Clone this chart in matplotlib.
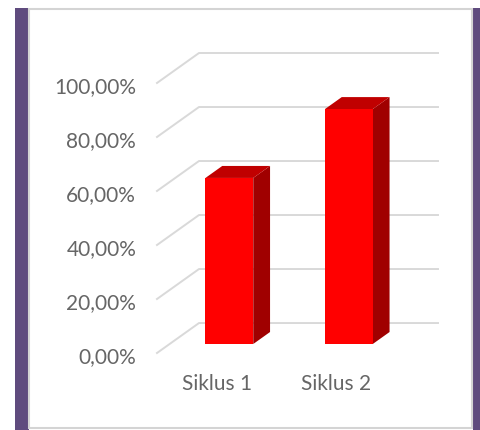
import matplotlib
matplotlib.use("Agg")
import matplotlib.pyplot as plt
from matplotlib.patches import Rectangle
from matplotlib.transforms import ScaledTranslation

# data
categories = ["Siklus 1", "Siklus 2"]
values = [0.615, 0.87]
yticks = [0.0, 0.2, 0.4, 0.6, 0.8, 1.0]
ytick_labels = ["0,00%", "20,00%", "40,00%", "60,00%", "80,00%", "100,00%"]

W, H = 481, 430
DPI = 100

# oblique projection (data units): full depth offset
DX, DY = 0.3515, 0.111
BAR_W = 0.40
D0, D1 = 0.3, 0.7   # bar depth range as fraction of full depth

plt.rcParams['font.family'] = ['Lato', 'DejaVu Sans']

fig = plt.figure(figsize=(W / DPI, H / DPI), dpi=DPI)
fig.patch.set_facecolor("white")

# frame decoration (pixel coords -> figure fraction)
def px_rect(x0, y0, x1, y1, **kw):
    fig.patches.append(Rectangle((x0 / W, 1 - y1 / H), (x1 - x0) / W, (y1 - y0) / H,
                                 transform=fig.transFigure, zorder=-10, **kw))

px_rect(15, 8, 29, 430, facecolor="#5f4b7e", edgecolor="none")
px_rect(473, 8, 481, 430, facecolor="#5f4b7e", edgecolor="none")
px_rect(29.5, 9, 472.5, 428, facecolor="white", edgecolor="#d4d4d4", linewidth=1.5)

# axes: front plane x -0.5..1.5 at px 157..396, value 0..1 at px 353..83
left, right, bottom, top = 157, 438, 353, 53
ax = fig.add_axes([left / W, 1 - bottom / H, (right - left) / W, (bottom - top) / H])
ax.set_xlim(-0.5, 1.5 + DX)
ax.set_ylim(0, 1 + DY)
ax.patch.set_visible(False)
for s in ax.spines.values():
    s.set_visible(False)

def proj(x, v, d):
    return x + d * DX, v + d * DY

grid_c = "#d9d9d9"
for t in yticks:
    x0, y0 = proj(-0.5, t, 0)
    x1, y1 = proj(-0.5, t, 1)
    x2, y2 = proj(1.5, t, 1)
    ax.plot([x0, x1, x2], [y0, y1, y2], color=grid_c, lw=1.4, zorder=1, clip_on=False)

for i, v in enumerate(values):
    xl, xr = i - BAR_W / 2, i + BAR_W / 2
    # side face
    p = [proj(xr, 0, D0), proj(xr, 0, D1), proj(xr, v, D1), proj(xr, v, D0)]
    ax.fill(*zip(*p), color="#a00000", lw=0, zorder=3)
    # top face
    p = [proj(xl, v, D0), proj(xr, v, D0), proj(xr, v, D1), proj(xl, v, D1)]
    ax.fill(*zip(*p), color="#c00000", lw=0, zorder=3)
    # front face
    p = [proj(xl, 0, D0), proj(xr, 0, D0), proj(xr, v, D0), proj(xl, v, D0)]
    ax.fill(*zip(*p), color="#ff0000", lw=0, zorder=4)

ax.set_yticks(yticks)
ax.set_yticklabels(ytick_labels)
ax.set_xticks(range(len(categories)))
ax.set_xticklabels(categories)
ax.tick_params(axis="y", length=0, pad=15, labelsize=15, labelcolor="#666666")
ax.tick_params(axis="x", length=0, pad=15, labelsize=15, labelcolor="#666666")

# labels sit a little below the front gridline ends
shift = ScaledTranslation(0, -2.5 / DPI, fig.dpi_scale_trans)
for lab in ax.get_yticklabels():
    lab.set_transform(lab.get_transform() + shift)

fig.savefig("out.png", dpi=DPI)
